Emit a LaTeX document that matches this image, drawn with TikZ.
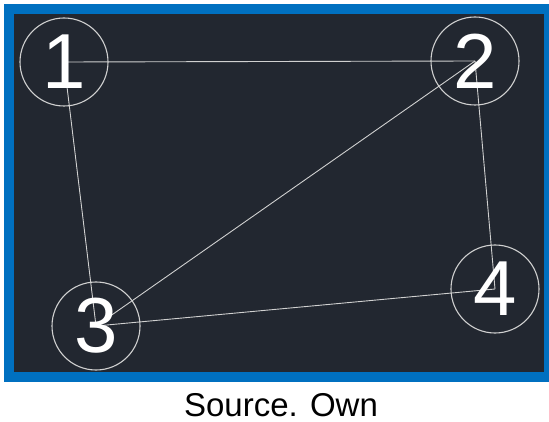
\documentclass[tikz,border=0pt]{standalone}
\usepackage{fontspec}
\setmainfont{Liberation Sans}
\pgfdeclarelayer{frame}
\pgfdeclarelayer{edges}
\pgfsetlayers{frame,edges,main}
\definecolor{frameblue}{HTML}{0070C0}
\definecolor{panel}{HTML}{222730}
\definecolor{wire}{HTML}{D0D0D0}
\begin{document}
\begin{tikzpicture}[x=1pt,y=-1pt,
  vertex/.style={circle,draw=wire,line width=1.1pt,minimum size=88pt,inner sep=0pt,
    text=white,font=\fontsize{78}{78}\selectfont},
  edge/.style={draw=wire,line width=0.9pt}]
\useasboundingbox (0,0) rectangle (549,422);
\begin{pgfonlayer}{frame}
  \fill[frameblue] (4,4) rectangle (549,382);
  \fill[panel] (14,14) rectangle (544,372);
\end{pgfonlayer}
\node[vertex] (n1) at (64,62) {1};
\node[vertex] (n2) at (475,61) {2};
\node[vertex] (n3) at (96,326) {3};
\node[vertex] (n4) at (495,289) {4};
\begin{pgfonlayer}{edges}
  \draw[edge] (n1.center) -- (n2.center);
  \draw[edge] (n1.center) -- (n3.center);
  \draw[edge] (n2.center) -- (n3.center);
  \draw[edge] (n2.center) -- (n4.center);
  \draw[edge] (n3.center) -- (n4.center);
\end{pgfonlayer}
\node[font=\fontsize{33}{33}\selectfont] (cap) at (281,405) {Source. Own};
\end{tikzpicture}
\end{document}
